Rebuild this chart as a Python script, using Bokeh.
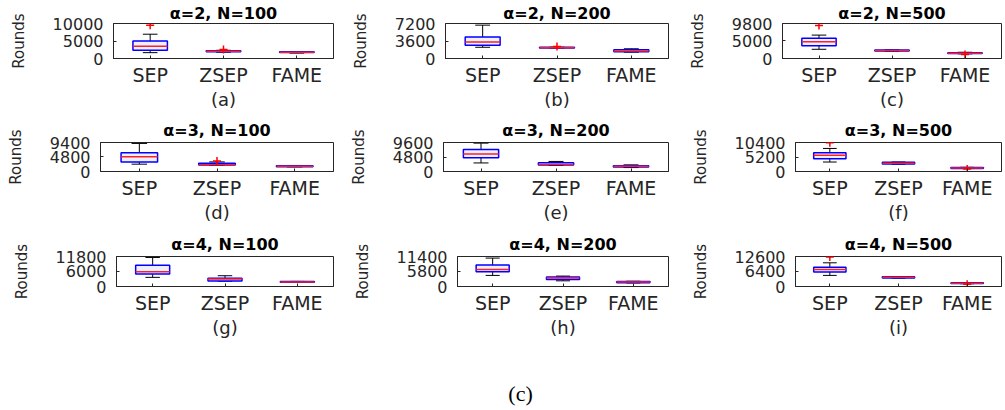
from bokeh.plotting import figure
from bokeh.models import Range1d, FixedTicker, Label
from bokeh.layouts import column, row
from bokeh.embed import file_html
from bokeh.resources import INLINE

methods = ["SEP", "ZSEP", "FAME"]
titles = ["α=2, N=100", "α=2, N=200", "α=2, N=500",
          "α=3, N=100", "α=3, N=200", "α=3, N=500",
          "α=4, N=100", "α=4, N=200", "α=4, N=500"]
subcaps = ["(a)", "(b)", "(c)", "(d)", "(e)", "(f)", "(g)", "(h)", "(i)"]
ytick_mid = [5000, 3600, 5000, 4800, 4800, 5200, 6000, 5800, 6400]
ytick_max = [10000, 7200, 9800, 9400, 9600, 10400, 11800, 11400, 12600]

# per panel: [SEP, ZSEP, FAME]
lower_whisker = [[1670, 1800, 1550], [2310, 2120, 1300], [2580, 2050, 1300],
                 [2380, 2000, 1500], [2830, 2000, 1300], [3400, 2600, 1050],
                 [3600, 2100, 1600], [4210, 2160, 1350], [4660, 3500, 1150]]
q1 = [[2390, 1950, 1680], [2720, 2170, 1400], [3600, 2120, 1400],
      [3100, 2070, 1560], [4540, 2120, 1510], [4570, 2670, 1100],
      [4880, 2190, 1690], [5650, 2660, 1440], [6120, 3580, 1250]]
median = [[3500, 2050, 1780], [3390, 2230, 1560], [4720, 2220, 1470],
          [4770, 2170, 1700], [5760, 2300, 1700], [5830, 3000, 1250],
          [5780, 2960, 1800], [6480, 3240, 1700], [7160, 3850, 1400]]
q3 = [[5000, 2200, 1900], [4410, 2290, 1800], [5640, 2350, 1620],
      [6100, 2700, 1860], [7270, 2930, 1910], [6680, 3300, 1400],
      [8340, 3220, 1930], [8170, 3600, 1940], [8110, 4110, 1550]]
upper_whisker = [[6940, 2350, 2000], [6860, 2330, 2000], [6550, 2420, 1750],
                 [9100, 3100, 1950], [9390, 3330, 2200], [8270, 3400, 1500],
                 [11420, 4240, 2000], [10800, 3960, 2000], [9950, 4200, 1650]]
outliers = [[[9530], [2550], []], [[], [2450], []], [[9240], [], [1150]],
            [[], [3410], []], [[], [], []], [[10300], [], [900]],
            [[], [], []], [[], [], []], [[12340], [], [950]]]

col_width = [345, 335, 324]
col_right = [12, 12, 3]
row_height = [112, 113, 115]
row_top = [23, 30, 31]
row_bottom = [53, 52, 53]
panel_left = [113, 100, 102, 100, 98, 115, 116, 112, 115]

AX = "#262626"
BOXW = 0.47
CAPW = 0.2


def make_panel(k):
    r, c = divmod(k, 3)
    p = figure(width=col_width[c], height=row_height[r],
               x_range=Range1d(0.5, 3.5), y_range=Range1d(0, ytick_max[k]),
               output_backend="svg", toolbar_location=None,
               min_border_left=panel_left[k], min_border_right=col_right[c],
               min_border_top=row_top[r], min_border_bottom=row_bottom[r],
               background_fill_color="white", border_fill_color="white")
    p.grid.visible = False
    p.outline_line_color = AX
    p.outline_line_width = 1

    pos = [1, 2, 3]
    lw, a, m, b, uw = lower_whisker[k], q1[k], median[k], q3[k], upper_whisker[k]
    # whiskers
    p.segment(x0=pos, y0=b, x1=pos, y1=uw, line_color="black", line_width=1)
    p.segment(x0=pos, y0=lw, x1=pos, y1=a, line_color="black", line_width=1)
    p.segment(x0=[x - CAPW / 2 for x in pos], y0=uw, x1=[x + CAPW / 2 for x in pos], y1=uw,
              line_color="black", line_width=1)
    p.segment(x0=[x - CAPW / 2 for x in pos], y0=lw, x1=[x + CAPW / 2 for x in pos], y1=lw,
              line_color="black", line_width=1)
    # boxes
    p.vbar(x=pos, width=BOXW, bottom=a, top=b, fill_color="#eeeeff",
           line_color="#0000ff", line_width=1.5)
    # medians
    p.segment(x0=[x - BOXW / 2 for x in pos], y0=m, x1=[x + BOXW / 2 for x in pos], y1=m,
              line_color="#ff2020", line_width=1.5)
    # outliers
    ox, oy = [], []
    for j, vals in enumerate(outliers[k]):
        for v in vals:
            ox.append(pos[j])
            oy.append(v)
    if ox:
        p.scatter(ox, oy, marker="cross", size=8, line_color="#ff0000", line_width=1.5)

    yt = FixedTicker(ticks=[0, ytick_mid[k], ytick_max[k]])
    xt = FixedTicker(ticks=pos)

    ax = p.xaxis[0]
    ax.ticker = xt
    ax.major_label_overrides = {pos[j]: methods[j] for j in range(3)}
    ax.major_label_text_font = "DejaVu Sans"
    ax.major_label_text_font_size = "19px"
    ax.major_label_text_color = AX
    ax.major_label_standoff = 5
    ax.major_tick_in = 3
    ax.major_tick_out = 0
    ax.minor_tick_line_color = None
    ax.axis_line_color = AX
    ax.major_tick_line_color = AX
    ax.axis_label = subcaps[k]
    ax.axis_label_text_font = "DejaVu Sans"
    ax.axis_label_text_font_size = "18px"
    ax.axis_label_text_font_style = "normal"
    ax.axis_label_text_color = AX
    ax.axis_label_standoff = 0

    ay = p.yaxis[0]
    ay.ticker = yt
    ay.major_label_text_font = "DejaVu Sans"
    ay.major_label_text_font_size = "16px"
    ay.major_label_text_color = AX
    ay.major_label_standoff = 10
    ay.major_tick_in = 3
    ay.major_tick_out = 0
    ay.minor_tick_line_color = None
    ay.axis_line_color = AX
    ay.major_tick_line_color = AX
    ay.axis_label = "Rounds"
    ay.axis_label_text_font = "DejaVu Sans"
    ay.axis_label_text_font_size = "15px"
    ay.axis_label_text_font_style = "normal"
    ay.axis_label_text_color = AX
    ay.axis_label_standoff = 22
    ay.formatter.use_scientific = False

    p.title.text = titles[k]
    p.title.align = "center"
    p.title.text_font = "DejaVu Sans"
    p.title.text_font_size = "16px"
    p.title.text_font_style = "bold"
    p.title.text_color = "black"
    p.title.standoff = 2 if r == 0 else 5
    return p


panels = [make_panel(k) for k in range(9)]
rows = [row(panels[3 * r:3 * r + 3], spacing=0) for r in range(3)]

cap = figure(width=1004, height=70, x_range=Range1d(0, 1), y_range=Range1d(0, 1),
             x_axis_type=None, y_axis_type=None,
             output_backend="svg", toolbar_location=None, min_border=0)
cap.grid.visible = False
cap.outline_line_color = None
cap.add_layout(Label(x=0.518, y=0.243, text="(c)", text_font="Liberation Serif",
                     text_font_size="22px", text_align="center", text_baseline="middle",
                     text_color="black"))

layout = column(rows + [cap], spacing=0)

open("out.html", "w").write(file_html(layout, INLINE))
